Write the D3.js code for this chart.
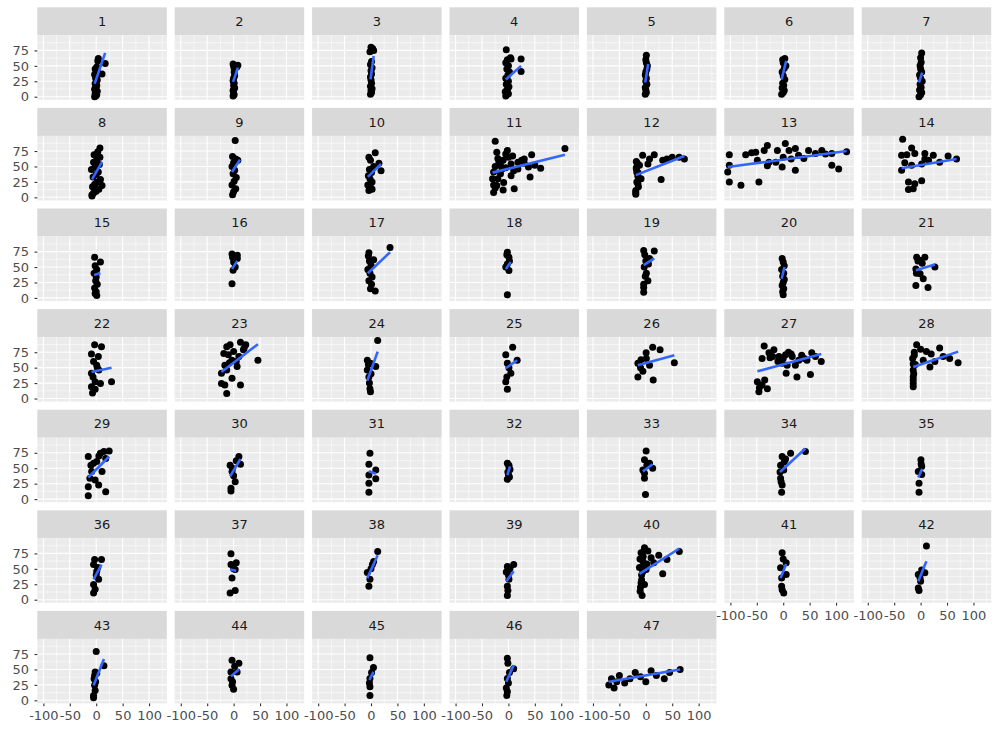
<!DOCTYPE html>
<html><head><meta charset="utf-8">
<script src="https://cdn.jsdelivr.net/npm/d3@7"></script>
<style>body{margin:0;background:#fff} svg{display:block}</style>
</head><body>
<script>
// ---------- DATA ----------
const panelLabels = d3.range(1, 48).map(String);
const xTicks = [-100, -50, 0, 50, 100];
const yTicks = [0, 25, 50, 75];

const xValues = [
 [-3,-1,1,-2,0,2,-3,-1,1,-2,0,2,-1,1,-3,0,2,-2,1,4,11,17,-1,0,3],
 [-1,1,0,-1,2,0,1,-1,0,2,1,8,6,-1,1,0],
 [-1,1,0,2,-1,1,0,-1,1,0,2,-1,1,-2,3,0,5],
 [-5,-3,0,-6,-2,1,-4,0,-5,-1,2,-3,0,-5,-2,4,-4,24,24,5,-3],
 [-1,1,0,-1,2,0,1,-1,0,2,3,1,0,1],
 [-3,0,2,-2,1,-1,3,0,-2,2,5,0,-1,3],
 [-3,0,2,-2,1,-1,3,0,-2,2,0,-1,1,0,2],
 [-8,-5,0,5,-7,-3,2,8,-6,0,4,-9,-2,6,-5,1,7,-4,3,7,11,-8],
 [3,-2,0,4,-3,1,5,-1,2,-3,0,4,-2,8],
 [-4,0,-6,2,-2,-5,1,-3,5,8,19,15,-1,-4,2],
 [-25,-22,-2,-18,5,18,44,38,61,41,107,-28,-22,11,-9,-28,-15,5,18,-12,-30,-20,0,25,-25,-5,30,50,-28,-10,8,-20,-15,-5,-25,10,30,-10],
 [-18,-18,-15,-19,-15,-6,16,32,29,63,73,4,-9,7,-17,-12,50,40,-19,-14,-17,-18,-16,-19,-15],
 [-102,-102,-102,-80,-71,-52,-46,-49,-36,-30,-27,-11,4,11,23,29,23,-14,-30,48,61,73,92,92,105,120,39,-2,-105,0,-60,80,15],
 [-34,-17,-36,-26,-11,8,24,36,52,68,2,-17,-36,2,-23,-11,-23,-14,8,-30,15],
 [-3,8,-2,1,-4,0,-1,2,-3,0,1,-2],
 [-3,7,-1,3,-3,0,7,-2],
 [-4,36,8,-5,-3,0,-6,-2,2,-4,1,-1,5],
 [-2,1,-5,1,-2,-2,2,-3],
 [-4,16,7,4,-4,-4,-2,0,-3,1,-1,5,-4],
 [-2,0,2,-3,1,-1,2,0,-2,1,-1,0],
 [-7.5,8,-1,27,-9,-1,-9,14,5,-5,3,-8],
 [-3,10,-9,-5,1,5,-9,-2,8,29,-9,-7,-2,4,-6,2],
 [-18.6,-13,-6.6,13,23,18.6,0,-3,10,-16.6,-23,-13,6.6,46,-23,-16.6,13,-13,-3,-10,5,-8,20],
 [12.6,-7,-1,9,-4,-2,-1,-7,-3,0,-5],
 [8,-5,16.6,-2,4.6,-5,-2,1,-3],
 [13,27,0.6,-9,-15,1,-5.6,-15,14,54,7,-10],
 [-36,-40,-17.6,-8,4.4,17,-2,7.5,23,5.6,26,51.5,54,72,61,-49,-40,-30,-46,29.5,-27,40,-10,10,-20,0,15,35,45,-35,-45,-25],
 [-7.5,11,36,42.7,71,17.6,-14,-14,-14,5,27,-12,-10,-14,0,-14,-13,-15,-12,-14,20,55],
 [-15,8,24.5,14.6,-5,1,18,11,-8.6,4.6,-15,-15,18,-2,-12,5,-10],
 [10,13,-6.6,-3,3,-5,-5,0,-2,5],
 [-2,-4,9,-4,9,-4,-4],
 [-2,1,3,-1,0,2,-2,1],
 [0.6,-2.5,7,13,-5.6,-2.5,-0.6,-2.5,2],
 [42,14,-2,4.4,-5,1,-5,-2,-3,-6,2,-4],
 [0.6,2,-4.4,2,-3,-3,1],
 [-3,10,-5,1,4.6,-5,-5,-2,0,3],
 [-5,5,-5,3,-3,3,-6.6,0],
 [12.6,2.6,-7,-2,-4,0,5],
 [10,-2,1,-2,-2,-4,3,-1,0],
 [-2.5,-9,4,24.5,40,63.4,-5.6,0.6,32,-9,-2.5,-10.7,-7,-12,-5,2,-8,-10,-8,-6,-4,-11,-3,10,15],
 [-2,5.6,-5,5.6,-3,-2,1,0,-3],
 [11,8,-4.4,-1,-4.4,-3,2,0],
 [0,14.6,-2,-3,-5,-2,-4,-1,-3,-5,1],
 [-3,10,-5,6.6,-3,0,-5,2,-2],
 [-2,4.6,-2,-2,-2,-3,1],
 [-2,10,-2,-3,-1,-4,2,-2,0],
 [-70,-65,-60,-55,-50,-40,-30,-20,-10,0,10,20,35,45,65]
];
const yValues = [
 [0,1,3,5,7,9,12,15,18,21,24,27,30,33,36,39,42,45,48,62,37,54,2,10,58],
 [1,3,6,10,14,18,22,26,30,34,40,51,48,53,46,50],
 [4,7,10,13,17,22,27,32,37,42,47,52,57,73,78,80,75],
 [1,3,5,8,12,16,20,25,30,35,40,45,50,55,60,63,76,61,41,61,10],
 [4,7,11,15,20,25,30,35,40,45,50,55,60,67],
 [4,7,10,14,18,22,28,34,40,46,50,55,60,62],
 [0,3,7,11,15,20,25,30,35,40,45,50,56,63,71],
 [4,7,10,13,17,21,25,29,33,37,41,45,49,53,57,61,65,69,74,80,19,2],
 [92,4,9,14,20,26,32,38,44,50,56,62,66,60],
 [11,15,20,25,30,35,40,45,50,72,43,55,60,65,13],
 [91,73,76,57,54,57,69,49,47,33,79,8,19,14,24,41,38,35,46,46,30,63,65,60,50,48,55,52,20,12,67,30,52,70,15,43,62,60],
 [58,46,34,11,22,68,69,60,29,65,62,54,30,62,40,52,65,62,5,17,25,48,55,8,40],
 [69,52,25,19.6,69,73,25,60,76,84,57,76,87,76,79,68,44,57,51,76,71,76,71,52,46,74,63,49,41,65,72,70,62],
 [94,80,68,69,71,71,68,57,67,62,54,52,44,27,25,22,12.5,14,62,56,60],
 [66,58,52,46,40,34,28,22,16,10,4,7],
 [71,69,45,50,23,58,64,66],
 [73,81.5,11,68,60,53,46,40,34,28,22,15,62],
 [74,66,50,44.6,55,5,60,70],
 [77,76,64,28,17,9,70,60,50,40,35,55,22],
 [64,58,52,46,40,35,30,25,20,15,10,5],
 [66,66,61,50,47,39,20,17,31,60,56,40],
 [87,84,72,60,54,46,41,27,24.5,27,19,9,15,68,35,50],
 [73,84,87,91,87,79,76,62,68,54,41,46,52,62,24.5,22,22,8,33,71,60,58,82],
 [94,62,57,52,35,16,11,46,25,40,55],
 [83,71,62,57,41,27,15,50,35],
 [83,79,74,63,57,65,44,35,30,58,54,50],
 [85,65,79,68,71,68,57,54,54,41,35,39,74,60,68,27,22,16,11,62,74,65,60,75,68,65,72,70,62,30,18,66],
 [87,76,82,68,58,51,46,24.5,19,62,60,70,55,35,80,30,40,65,75,56,72,65],
 [69,74.5,78,77,58,61,66,44.6,44.6,23,20,5.4,12,31,34,70,55],
 [69,56.5,55,44.6,28,17.6,13,38,50,62],
 [74.5,56.5,47,39,33,25.5,11],
 [58,52,48,44,40,36,32,55],
 [78,63.6,58,50,47,34,7.6,42,55],
 [77,74.5,69,65,55,47,34,23,11,44,60,28],
 [63.6,52.7,44.6,40,25.5,11,57],
 [65,65,57,46,33,24.5,11,17,40,52],
 [74.5,60,57,49,35,15,11,50],
 [78,57,44,33,22,50,62],
 [57,54,33,22,7,45,50,15,40],
 [84,76,79,72,65,78,62.5,49,42,27,24.5,13.6,7,52,70,58,40,20,32,45,55,66,80,68,60],
 [76,60,51.6,41,35,16,11,66,22],
 [87,43.5,41,35,19,15,48,30],
 [79,56,46,24.5,8,16,35,30,40,4,44],
 [65,60,46,46,24.5,18,35,55,30],
 [69,53,35.5,22,8,28,45],
 [68,51,35.5,8,60,20,45,14,28],
 [25,35,20,30,40,28,35,45,38,30,48,40,35,45,50]
];
// fitted (lm) line end points per panel
const fitX0 = [-3,-1,-1,-5,-1,-3,-3,-8,-3,-6,-30,-19,-105,-36,-4,-3,-6,-5,-4,-3,-9,-9,-23,-7,-5,-15,-49,-14,-15,-6.6,-4,-2,-5.6,-6,-4.4,-5,-6.6,-7,-4,-12,-5,-4.4,-5,-5,-3,-4,-70];
const fitY0 = [21,24,28,28,23,28,23,29,41,33,40,36,49,47,37,47,40,47,53,31,45,43,43,29,49,54,44,51,35,37,45,39,45,44,35,33,49,35,30,42,35,30,24,39,33,30,30];
const fitX1 = [17,8,5,24,4.4,5.6,3,11,12,19,107,73,120,68,8,7,36,4.6,16,2.5,27,29,46,12.6,16.6,54,72,71,24.5,13,9,3,13,42,3,10,5,12.6,10,63.4,5.6,11,14.6,10,4.6,10,65];
const fitY1 = [71,47,66,50,53,58,39,57,61,54,69,67,75,62,40,60,74,58,64,50,54,50,88,76,62,70,72,76,69,65,41,53,56.5,82,49,57,47,72,46,83,58,62.5,67,50,46,57,50];

// ---------- LAYOUT ----------
const W = 997, H = 729, nCol = 7;
const left0 = 37.3, colPitch = 137.4, panelW = 129.5;
const top0 = 7.3, rowPitch = 100.6, stripH = 28, plotH = 64.5;
const FONT = "'DejaVu Sans', sans-serif";

const x = d3.scaleLinear().domain([-111.5, 133.6]).range([0, panelW]);
const y = d3.scaleLinear().domain([-5, 99.5]).range([plotH, 0]);
const xMinor = [-75, -25, 25, 75, 125];
const yMinor = [12.5, 37.5, 62.5, 87.5];
const fmt = d => String(d);   // plain hyphen-minus like the reference

const svg = d3.select("body").append("svg").attr("width", W).attr("height", H);
svg.append("rect").attr("width", W).attr("height", H).attr("fill", "#fff");

const n = panelLabels.length;
panelLabels.forEach((lab, i) => {
  const r = Math.floor(i / nCol), c = i % nCol;
  const gx = left0 + c * colPitch, gy = top0 + r * rowPitch;
  const g = svg.append("g").attr("transform", `translate(${gx},${gy})`);
  // strip
  g.append("rect").attr("width", panelW).attr("height", stripH).attr("fill", "#D9D9D9");
  g.append("text").attr("x", panelW / 2).attr("y", stripH / 2).attr("dy", "0.36em")
    .attr("text-anchor", "middle").attr("font-family", FONT).attr("font-size", 13)
    .attr("fill", "#1A1A1A").text(lab);
  // panel
  const p = g.append("g").attr("transform", `translate(0,${stripH})`);
  p.append("rect").attr("width", panelW).attr("height", plotH).attr("fill", "#EBEBEB");
  p.selectAll(".xmin").data(xMinor).join("line")
    .attr("x1", d => x(d)).attr("x2", d => x(d)).attr("y1", 0).attr("y2", plotH)
    .attr("stroke", "#fff").attr("stroke-width", 0.55);
  p.selectAll(".ymin").data(yMinor).join("line")
    .attr("y1", d => y(d)).attr("y2", d => y(d)).attr("x1", 0).attr("x2", panelW)
    .attr("stroke", "#fff").attr("stroke-width", 0.55);
  p.selectAll(".xmaj").data(xTicks).join("line")
    .attr("x1", d => x(d)).attr("x2", d => x(d)).attr("y1", 0).attr("y2", plotH)
    .attr("stroke", "#fff").attr("stroke-width", 1.1);
  p.selectAll(".ymaj").data(yTicks).join("line")
    .attr("y1", d => y(d)).attr("y2", d => y(d)).attr("x1", 0).attr("x2", panelW)
    .attr("stroke", "#fff").attr("stroke-width", 1.1);
  // points
  const pts = xValues[i].map((v, k) => [v, yValues[i][k]]);
  p.selectAll("circle").data(pts).join("circle")
    .attr("cx", d => x(d[0])).attr("cy", d => y(d[1])).attr("r", 3.5).attr("fill", "#000");
  // fit line
  p.append("line")
    .attr("x1", x(fitX0[i])).attr("y1", y(fitY0[i]))
    .attr("x2", x(fitX1[i])).attr("y2", y(fitY1[i]))
    .attr("stroke", "#3366FF").attr("stroke-width", 2.6);
  // y axis on first column
  if (c === 0) {
    const ax = p.append("g").call(d3.axisLeft(y).tickValues(yTicks).tickFormat(fmt).tickSize(2.8).tickPadding(5.5));
    ax.select(".domain").remove();
    ax.selectAll("line").attr("stroke", "#333333").attr("stroke-width", 1.1);
    ax.selectAll("text").attr("font-family", FONT).attr("font-size", 13).attr("fill", "#4D4D4D");
  }
  // x axis where no panel below
  if (i + nCol >= n) {
    const ax = p.append("g").attr("transform", `translate(0,${plotH})`)
      .call(d3.axisBottom(x).tickValues(xTicks).tickFormat(fmt).tickSize(2.8).tickPadding(5));
    ax.select(".domain").remove();
    ax.selectAll("line").attr("stroke", "#333333").attr("stroke-width", 1.1);
    ax.selectAll("text").attr("font-family", FONT).attr("font-size", 13).attr("fill", "#4D4D4D");
  }
});
</script>
</body></html>
